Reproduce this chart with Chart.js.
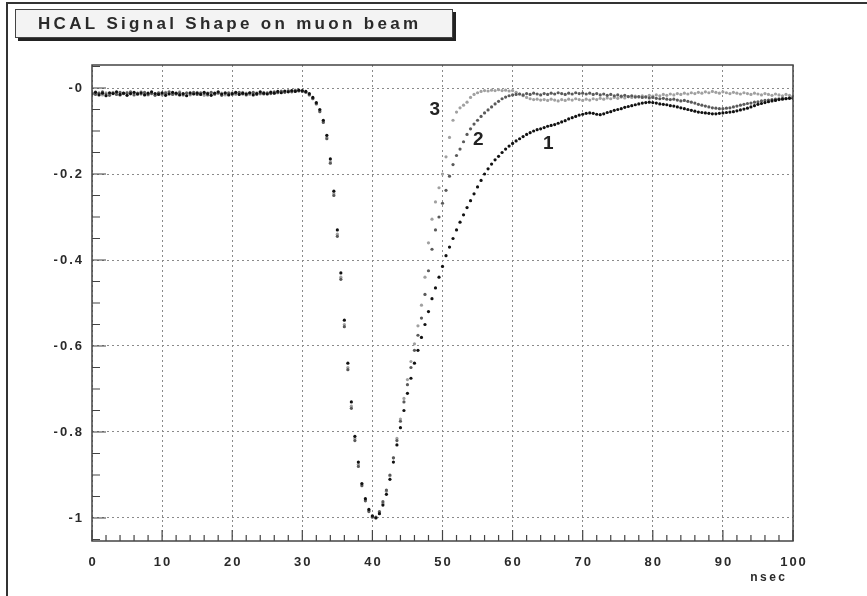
<!DOCTYPE html>
<html>
<head>
<meta charset="utf-8">
<script src="https://cdn.jsdelivr.net/npm/chart.js@4/dist/chart.umd.min.js"></script>
<style>
  html, body { margin: 0; padding: 0; background: #fff; }
  canvas { display: block; }
</style>
</head>
<body>
<canvas id="shape" width="867" height="596"></canvas>
<script>
// sample times, nsec (0.5 ns steps)
const timeNs = [
  0,0.5,1,1.5,2,2.5,3,3.5,4,4.5,5,5.5,6,6.5,7,7.5,8,8.5,9,9.5,
  10,10.5,11,11.5,12,12.5,13,13.5,14,14.5,15,15.5,16,16.5,17,17.5,18,18.5,19,19.5,
  20,20.5,21,21.5,22,22.5,23,23.5,24,24.5,25,25.5,26,26.5,27,27.5,28,28.5,29,29.5,
  30,30.5,31,31.5,32,32.5,33,33.5,34,34.5,35,35.5,36,36.5,37,37.5,38,38.5,39,39.5,
  40,40.5,41,41.5,42,42.5,43,43.5,44,44.5,45,45.5,46,46.5,47,47.5,48,48.5,49,49.5,
  50,50.5,51,51.5,52,52.5,53,53.5,54,54.5,55,55.5,56,56.5,57,57.5,58,58.5,59,59.5,
  60,60.5,61,61.5,62,62.5,63,63.5,64,64.5,65,65.5,66,66.5,67,67.5,68,68.5,69,69.5,
  70,70.5,71,71.5,72,72.5,73,73.5,74,74.5,75,75.5,76,76.5,77,77.5,78,78.5,79,79.5,
  80,80.5,81,81.5,82,82.5,83,83.5,84,84.5,85,85.5,86,86.5,87,87.5,88,88.5,89,89.5,
  90,90.5,91,91.5,92,92.5,93,93.5,94,94.5,95,95.5,96,96.5,97,97.5,98,98.5,99,99.5,
  100
]

// curve 1 (slowest tail, black)
const shape1 = [
  -0.014,-0.010,-0.016,-0.012,-0.018,-0.011,-0.013,-0.009,-0.015,-0.012,
  -0.017,-0.013,-0.010,-0.014,-0.011,-0.016,-0.012,-0.009,-0.013,-0.015,
  -0.011,-0.017,-0.014,-0.010,-0.012,-0.016,-0.013,-0.018,-0.011,-0.014,
  -0.012,-0.015,-0.010,-0.013,-0.017,-0.012,-0.009,-0.014,-0.011,-0.016,
  -0.013,-0.010,-0.015,-0.012,-0.014,-0.011,-0.016,-0.013,-0.009,-0.012,
  -0.014,-0.010,-0.012,-0.008,-0.011,-0.007,-0.009,-0.006,-0.008,-0.005,
  -0.006,
  -0.008,-0.013,-0.022,-0.034,-0.050,-0.075,-0.110,-0.165,-0.240,-0.330,
  -0.430,-0.540,-0.640,-0.730,-0.810,-0.870,-0.920,-0.955,-0.980,-0.995,
  -1.000,-0.990,-0.970,-0.945,-0.910,-0.870,-0.830,-0.790,-0.750,-0.710,
  -0.675,-0.640,-0.610,-0.580,-0.550,-0.520,-0.490,-0.465,-0.440,-0.415,
  -0.390,-0.370,-0.350,-0.330,-0.312,-0.295,-0.278,-0.262,-0.246,-0.230,
  -0.215,-0.200,-0.188,-0.177,-0.167,-0.159,-0.150,-0.142,-0.135,-0.129,
  -0.123,-0.118,-0.113,-0.108,-0.104,-0.100,-0.097,-0.095,-0.092,-0.089,
  -0.087,-0.085,-0.082,-0.079,-0.076,-0.072,-0.069,-0.066,-0.063,-0.061,
  -0.059,-0.058,-0.059,-0.061,-0.062,-0.060,-0.057,-0.055,-0.052,-0.050,
  -0.048,-0.045,-0.043,-0.041,-0.039,-0.037,-0.035,-0.034,-0.033,-0.034,
  -0.035,-0.037,-0.038,-0.039,-0.041,-0.042,-0.044,-0.046,-0.048,-0.050,
  -0.052,-0.054,-0.056,-0.057,-0.058,-0.059,-0.060,-0.060,-0.059,-0.058,
  -0.057,-0.056,-0.055,-0.053,-0.051,-0.049,-0.047,-0.044,-0.041,-0.038,
  -0.036,-0.034,-0.032,-0.030,-0.029,-0.027,-0.026,-0.025,-0.024,-0.024
]

// curve 2 (medium)
const shape2 = [
  -0.011,-0.015,-0.012,-0.009,-0.014,-0.017,-0.012,-0.015,-0.010,-0.013,
  -0.012,-0.009,-0.016,-0.012,-0.014,-0.010,-0.015,-0.013,-0.017,-0.011,
  -0.014,-0.012,-0.009,-0.015,-0.013,-0.011,-0.016,-0.012,-0.014,-0.010,
  -0.015,-0.011,-0.013,-0.016,-0.010,-0.014,-0.012,-0.017,-0.013,-0.011,
  -0.015,-0.012,-0.010,-0.014,-0.016,-0.012,-0.010,-0.015,-0.012,-0.014,
  -0.011,-0.013,-0.009,-0.011,-0.008,-0.010,-0.007,-0.009,-0.006,-0.007,
  -0.008,
  -0.010,-0.016,-0.025,-0.037,-0.055,-0.080,-0.118,-0.175,-0.250,-0.345,
  -0.445,-0.555,-0.655,-0.745,-0.820,-0.880,-0.925,-0.960,-0.985,-0.998,
  -0.998,-0.985,-0.962,-0.935,-0.900,-0.860,-0.820,-0.775,-0.730,-0.690,
  -0.650,-0.610,-0.575,-0.535,-0.480,-0.425,-0.375,-0.330,-0.300,-0.268,
  -0.238,-0.205,-0.178,-0.157,-0.142,-0.125,-0.108,-0.095,-0.084,-0.075,
  -0.066,-0.058,-0.051,-0.044,-0.037,-0.031,-0.025,-0.021,-0.018,-0.016,
  -0.015,-0.014,-0.016,-0.013,-0.015,-0.012,-0.014,-0.016,-0.013,-0.015,
  -0.012,-0.014,-0.011,-0.013,-0.015,-0.012,-0.014,-0.011,-0.013,-0.012,
  -0.014,-0.012,-0.015,-0.013,-0.016,-0.014,-0.017,-0.015,-0.018,-0.016,
  -0.019,-0.017,-0.020,-0.018,-0.021,-0.020,-0.022,-0.021,-0.023,-0.022,
  -0.024,-0.025,-0.024,-0.026,-0.027,-0.026,-0.028,-0.030,-0.029,-0.031,
  -0.033,-0.035,-0.038,-0.040,-0.042,-0.044,-0.046,-0.047,-0.048,-0.048,
  -0.047,-0.046,-0.044,-0.042,-0.040,-0.038,-0.036,-0.035,-0.033,-0.032,
  -0.030,-0.029,-0.028,-0.027,-0.026,-0.025,-0.024,-0.024,-0.023,-0.022
]

// curve 3 (fastest return, light)
const shape3 = [
  -0.013,-0.009,-0.012,-0.016,-0.011,-0.014,-0.010,-0.013,-0.017,-0.012,
  -0.010,-0.014,-0.012,-0.015,-0.009,-0.013,-0.016,-0.011,-0.014,-0.012,
  -0.016,-0.010,-0.013,-0.012,-0.015,-0.009,-0.014,-0.011,-0.016,-0.013,
  -0.010,-0.014,-0.017,-0.011,-0.013,-0.015,-0.010,-0.012,-0.016,-0.014,
  -0.011,-0.015,-0.013,-0.010,-0.012,-0.015,-0.013,-0.011,-0.014,-0.010,
  -0.013,-0.009,-0.012,-0.010,-0.007,-0.009,-0.006,-0.008,-0.005,-0.006,
  -0.007,
  -0.009,-0.015,-0.024,-0.036,-0.053,-0.078,-0.115,-0.172,-0.246,-0.340,
  -0.440,-0.550,-0.650,-0.740,-0.815,-0.875,-0.922,-0.958,-0.982,-0.996,
  -0.999,-0.988,-0.966,-0.938,-0.902,-0.860,-0.815,-0.770,-0.722,-0.678,
  -0.636,-0.595,-0.553,-0.505,-0.440,-0.360,-0.305,-0.265,-0.232,-0.200,
  -0.160,-0.115,-0.075,-0.056,-0.046,-0.040,-0.033,-0.022,-0.015,-0.011,
  -0.008,-0.006,-0.007,-0.005,-0.006,-0.004,-0.006,-0.005,-0.007,-0.006,
  -0.010,-0.014,-0.018,-0.022,-0.025,-0.027,-0.026,-0.028,-0.027,-0.029,
  -0.026,-0.028,-0.030,-0.027,-0.029,-0.026,-0.028,-0.025,-0.027,-0.029,
  -0.026,-0.028,-0.025,-0.027,-0.024,-0.026,-0.023,-0.025,-0.022,-0.024,
  -0.021,-0.023,-0.020,-0.022,-0.019,-0.021,-0.018,-0.020,-0.017,-0.019,
  -0.016,-0.018,-0.015,-0.017,-0.014,-0.016,-0.013,-0.015,-0.012,-0.014,
  -0.011,-0.013,-0.010,-0.012,-0.009,-0.011,-0.008,-0.010,-0.012,-0.009,
  -0.011,-0.013,-0.010,-0.012,-0.014,-0.011,-0.013,-0.015,-0.012,-0.014,
  -0.016,-0.013,-0.015,-0.017,-0.014,-0.016,-0.018,-0.015,-0.017,-0.019
]

const xMajor = [0, 10, 20, 30, 40, 50, 60, 70, 80, 90, 100]
const xLabels = ['0', '10', '20', '30', '40', '50', '60', '70', '80', '90', '100']
const yMajor = [0, -0.2, -0.4, -0.6, -0.8, -1]
const yLabels = ['-0', '-0.2', '-0.4', '-0.6', '-0.8', '-1']

// curve numbers written next to the tails
const curveTags = ['1', '2', '3']
const tagTimes = [65.1, 55.1, 48.9]
const tagValues = [-0.13, -0.121, -0.051]

const title = 'HCAL Signal Shape on muon beam'

const toPoints = vals => vals.map((v, i) => ({ x: timeNs[i], y: v }))

// text with extra spacing between letters (ROOT-ish look)
function spacedText(ctx, str, x, y, gap, align) {
  let w = 0
  const widths = [...str].map(c => ctx.measureText(c).width)
  widths.forEach(cw => w += cw)
  w += gap * (str.length - 1)
  let start = x
  if (align === 'right') start = x - w
  if (align === 'center') start = x - w / 2
  ctx.textAlign = 'left'
  ;[...str].forEach((c, i) => {
    ctx.fillText(c, start, y)
    start += widths[i] + gap
  })
}

const rootDecor = {
  id: 'rootDecor',
  beforeDraw(chart) {
    const ctx = chart.ctx
    ctx.save()
    ctx.fillStyle = '#fff'
    ctx.fillRect(0, 0, chart.width, chart.height)
    // pad border (left and top)
    ctx.strokeStyle = '#333'
    ctx.lineWidth = 2
    ctx.beginPath()
    ctx.moveTo(7, 596)
    ctx.lineTo(7, 3)
    ctx.lineTo(867, 3)
    ctx.stroke()

    // title box with shadow
    ctx.fillStyle = '#222'
    ctx.fillRect(18, 12, 438, 29)
    ctx.fillStyle = '#f3f3f3'
    ctx.fillRect(15, 9, 438, 29)
    ctx.strokeStyle = '#444'
    ctx.lineWidth = 1
    ctx.strokeRect(15.5, 9.5, 437, 28)
    ctx.fillStyle = '#2a2a2a'
    ctx.font = 'bold 17px "Liberation Sans", Arial, sans-serif'
    ctx.textBaseline = 'middle'
    let plain = 0
    ;[...title].forEach(c => plain += ctx.measureText(c).width)
    const gap = (380 - plain) / (title.length - 1)
    spacedText(ctx, title, 38, 24, gap, 'left')
    ctx.restore()
  },
  afterDraw(chart) {
    const ctx = chart.ctx
    const xs = chart.scales.x
    const ys = chart.scales.y
    const a = chart.chartArea
    ctx.save()

    // frame
    ctx.strokeStyle = '#444'
    ctx.lineWidth = 1.5
    ctx.strokeRect(a.left, a.top, a.right - a.left, a.bottom - a.top)

    // x ticks, pointing up into the frame
    ctx.lineWidth = 1.2
    ctx.beginPath()
    for (let v = 0; v <= 100; v += 2) {
      const px = xs.getPixelForValue(v)
      const len = v % 10 === 0 ? 11 : 6
      ctx.moveTo(px, a.bottom)
      ctx.lineTo(px, a.bottom - len)
    }
    // y ticks, pointing right into the frame
    for (let k = -21; k <= 1; k++) {
      const v = k * 0.05
      const py = ys.getPixelForValue(v)
      if (py < a.top - 0.5 || py > a.bottom + 0.5) continue
      const len = k % 4 === 0 ? 14 : 8
      ctx.moveTo(a.left, py)
      ctx.lineTo(a.left + len, py)
    }
    ctx.stroke()

    // tick labels
    ctx.fillStyle = '#2a2a2a'
    ctx.font = 'bold 13px "Liberation Sans", Arial, sans-serif'
    ctx.textBaseline = 'middle'
    xMajor.forEach((v, i) => {
      spacedText(ctx, xLabels[i], xs.getPixelForValue(v), a.bottom + 21, 2, 'center')
    })
    yMajor.forEach((v, i) => {
      spacedText(ctx, yLabels[i], a.left - 10, ys.getPixelForValue(v), 2, 'right')
    })

    ctx.font = 'bold 12px "Liberation Sans", Arial, sans-serif'
    spacedText(ctx, 'nsec', a.right - 8, a.bottom + 37, 2.5, 'right')

    // curve numbers
    ctx.font = 'bold 19px "Liberation Sans", Arial, sans-serif'
    ctx.fillStyle = '#222'
    curveTags.forEach((t, i) => {
      ctx.textAlign = 'center'
      ctx.fillText(t, xs.getPixelForValue(tagTimes[i]), ys.getPixelForValue(tagValues[i]))
    })
    ctx.restore()
  }
}

const gridStyle = { color: '#8a8a8a', lineWidth: 1, drawTicks: false }
const borderStyle = { display: false, dash: [2, 3] }

new Chart(document.getElementById('shape'), {
  type: 'scatter',
  data: {
    datasets: [
      { label: '1', data: toPoints(shape1), backgroundColor: '#111', pointRadius: 1.6, pointBorderWidth: 0 },
      { label: '2', data: toPoints(shape2), backgroundColor: '#5a5a5a', pointRadius: 1.6, pointBorderWidth: 0 },
      { label: '3', data: toPoints(shape3), backgroundColor: '#a0a0a0', pointRadius: 1.6, pointBorderWidth: 0 }
    ]
  },
  options: {
    responsive: false,
    animation: false,
    events: [],
    layout: { padding: { top: 65, right: 74, left: 0, bottom: 0 } },
    plugins: { legend: { display: false }, tooltip: { enabled: false } },
    scales: {
      x: {
        type: 'linear', min: 0, max: 100,
        ticks: { stepSize: 10, display: false },
        grid: gridStyle, border: borderStyle,
        afterFit: s => { s.height = 55 }
      },
      y: {
        type: 'linear', min: -1.0535, max: 0.0535,
        afterBuildTicks: s => { s.ticks = yMajor.map(v => ({ value: v })) },
        ticks: { display: false },
        grid: gridStyle, border: borderStyle,
        afterFit: s => { s.width = 92 }
      }
    }
  },
  plugins: [rootDecor]
})
</script>
</body>
</html>
